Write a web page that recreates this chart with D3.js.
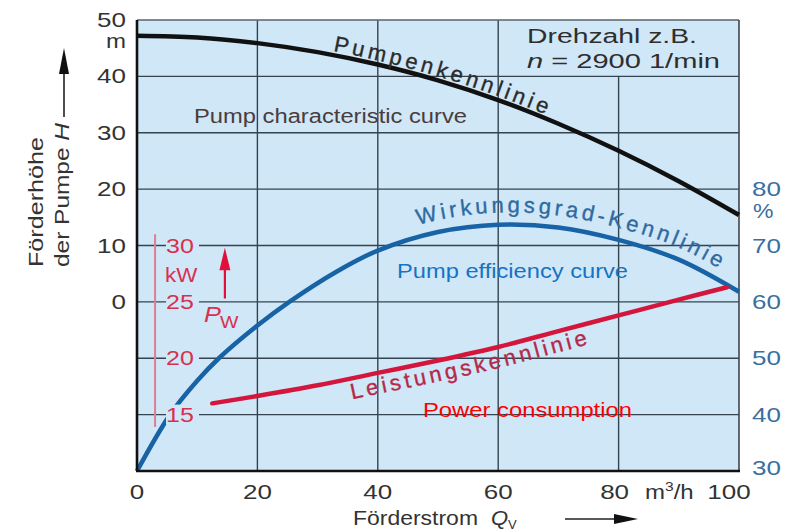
<!DOCTYPE html>
<html>
<head>
<meta charset="utf-8">
<script src="https://cdn.jsdelivr.net/npm/d3@7"></script>
<style>
body { margin: 0; background: #fff; }
svg { display: block; font-family: "Liberation Sans", Arial, sans-serif; }
</style>
</head>
<body>
<svg id="chart" width="785" height="532"></svg>
<script>
// Förderstrom Q in m3/h
var pumpQ = [0, 10, 20, 30, 40, 50, 60, 70, 80, 90, 100];
var pumpH = [47.2, 46.9, 45.9, 44.3, 42.1, 39.3, 35.8, 31.6, 26.8, 21.4, 15.4];
var effQ = [0, 5.5, 10, 13.6, 20, 25.3, 33.2, 40, 50, 60, 70, 80, 90, 100];
var effPct = [30, 40, 46, 50, 55.8, 60, 65.4, 69.1, 72.4, 73.7, 73.2, 71, 67.5, 61.8];
var powQ = [12.5, 20, 30, 40, 50, 60, 70, 80, 90, 98];
var powKW = [16, 16.65, 17.6, 18.7, 19.8, 21, 22.4, 23.8, 25.2, 26.3];

var qTicks = [0, 20, 40, 60, 80, 100];
var hTicks = [0, 10, 20, 30, 40, 50];
var effTicks = [30, 40, 50, 60, 70, 80];
var kwTicks = [15, 20, 25, 30];

var svg = d3.select("#chart");

// scales
var x = d3.scaleLinear().domain([0, 100]).range([137, 739]);
var yH = d3.scaleLinear().domain([-30, 50]).range([471, 20]);
var yE = d3.scaleLinear().domain([30, 110]).range([471, 20]);
var yP = d3.scaleLinear().domain([10, 50]).range([471, 20]);

var bg = "#cfe7f7";
var grid = "#34444f";
var sx = 1.3; // the original lettering is wide

// helper for wide text
function wtext(g, tx, ty, str, anchor, s) {
    return g.append("text")
        .attr("transform", "translate(" + tx + "," + ty + ") scale(" + (s || sx) + ",1)")
        .attr("text-anchor", anchor || "start")
        .text(str);
}

// plot background
svg.append("rect")
    .attr("x", x(0)).attr("y", yH(50))
    .attr("width", x(100) - x(0)).attr("height", yH(-30) - yH(50))
    .attr("fill", bg);

// horizontal grid
svg.append("g").selectAll("line")
    .data(d3.range(-20, 50, 10))
    .enter().append("line")
    .attr("x1", x(0)).attr("x2", x(100))
    .attr("y1", function (d) { return yH(d); })
    .attr("y2", function (d) { return yH(d); })
    .attr("stroke", grid).attr("stroke-width", 1.4);

// vertical grid, the 80 line stops below the speed box
svg.append("g").selectAll("line")
    .data([20, 40, 60, 80])
    .enter().append("line")
    .attr("x1", function (d) { return x(d); })
    .attr("x2", function (d) { return x(d); })
    .attr("y1", function (d) { return d == 80 ? yH(40) : yH(50); })
    .attr("y2", yH(-30))
    .attr("stroke", grid).attr("stroke-width", 1.4);

// frame
svg.append("line").attr("x1", x(0)).attr("x2", x(100)).attr("y1", yH(50)).attr("y2", yH(50))
    .attr("stroke", "#56646e").attr("stroke-width", 1.6);
svg.append("line").attr("x1", x(100)).attr("x2", x(100)).attr("y1", yH(50)).attr("y2", yH(-30))
    .attr("stroke", "#3b4750").attr("stroke-width", 1.6);

// red kW scale line inside the plot
var red = "#d8314f";
svg.append("line")
    .attr("x1", x(3)).attr("x2", x(3))
    .attr("y1", yP(31)).attr("y2", yP(13.9))
    .attr("stroke", "#dc8090").attr("stroke-width", 2);

// curves
function curve(qs, vs, yScale, dy) {
    var pts = qs.map(function (q, i) { return [x(q), yScale(vs[i]) + (dy || 0)]; });
    return d3.line().curve(d3.curveCatmullRom.alpha(0.5))(pts);
}

svg.append("path").attr("d", curve(pumpQ, pumpH, yH))
    .attr("fill", "none").attr("stroke", "#111").attr("stroke-width", 4.5);
svg.append("path").attr("d", curve(effQ, effPct, yE))
    .attr("fill", "none").attr("stroke", "#1763a6").attr("stroke-width", 4.5);
svg.append("path").attr("d", curve(powQ, powKW, yP))
    .attr("fill", "none").attr("stroke", "#d4163c").attr("stroke-width", 4.5)
    .attr("stroke-linecap", "round");

// left and bottom frame on top of the curves
svg.append("line").attr("x1", x(0)).attr("x2", x(0)).attr("y1", yH(50)).attr("y2", yH(-30))
    .attr("stroke", "#111").attr("stroke-width", 2.6);
svg.append("line").attr("x1", x(0) - 1).attr("x2", x(100) + 1).attr("y1", yH(-30)).attr("y2", yH(-30))
    .attr("stroke", "#111").attr("stroke-width", 2.6);

// kW tick labels, masking what lies behind them
var kw = svg.append("g").attr("fill", red).attr("font-size", 20);
kwTicks.forEach(function (v) {
    kw.append("rect")
        .attr("x", 166).attr("y", yP(v) - 10)
        .attr("width", 33).attr("height", 20)
        .attr("fill", bg);
    wtext(kw, 166, yP(v) + 7, String(v), "start", 1.25);
});
kw.append("rect").attr("x", 164).attr("y", 262).attr("width", 42).attr("height", 22).attr("fill", bg);
wtext(kw, 165, 282, "kW", "start", 1.12);

// P_W arrow
svg.append("line")
    .attr("x1", x(14.6)).attr("x2", x(14.6))
    .attr("y1", yP(25.3)).attr("y2", yP(28.3))
    .attr("stroke", "#e0103a").attr("stroke-width", 2.2);
svg.append("path")
    .attr("d", "M" + (x(14.6) - 5.5) + "," + yP(27.8) + "L" + x(14.6) + "," + yP(29.8) + "L" + (x(14.6) + 5.5) + "," + yP(27.8) + "Z")
    .attr("fill", "#e0103a");
var pw = svg.append("g").attr("fill", red);
wtext(pw, 204, 322, "P", "start", 1.15).attr("font-size", 22).attr("font-style", "italic");
wtext(pw, 220, 328, "W", "start", 1.15).attr("font-size", 17);

// labels running along the curves
var defs = svg.append("defs");
function curveLabel(id, qs, vs, yScale, dy, startX, str, color, spacing) {
    var p = defs.append("path").attr("id", id).attr("d", curve(qs, vs, yScale, dy));
    var node = p.node();
    var lo = 0, hi = node.getTotalLength();
    for (var k = 0; k < 40; k++) {
        var mid = (lo + hi) / 2;
        if (node.getPointAtLength(mid).x < startX) lo = mid; else hi = mid;
    }
    svg.append("text")
        .attr("font-size", 22)
        .attr("letter-spacing", spacing)
        .attr("fill", color)
        .attr("stroke", color).attr("stroke-width", 0.35)
        .append("textPath")
        .attr("href", "#" + id)
        .attr("startOffset", lo)
        .text(str);
}
curveLabel("pumpPath", pumpQ, pumpH, yH, -4, 333, "Pumpenkennlinie", "#2b2b2b", 3.8);
curveLabel("effPath", effQ, effPct, yE, -12, 418, "Wirkungsgrad-Kennlinie", "#2f6aa2", 3.7);
curveLabel("powPath", powQ, powKW, yP, 21, 352, "Leistungskennlinie", "#b5284a", 3.6);

// speed box
var box = svg.append("g").attr("fill", "#2e2e2e").attr("font-size", 20);
box.append("text").attr("x", 527).attr("y", 43).attr("textLength", 170)
    .attr("lengthAdjust", "spacingAndGlyphs").text("Drehzahl z.B.");
var nt = box.append("text").attr("x", 527).attr("y", 68).attr("textLength", 193)
    .attr("lengthAdjust", "spacingAndGlyphs");
nt.append("tspan").attr("font-style", "italic").text("n");
nt.append("tspan").text(" = 2900 1/min");

// English overlays
svg.append("text").attr("x", 194).attr("y", 123).attr("font-size", 20)
    .attr("fill", "#4a3c3c").attr("textLength", 273).attr("lengthAdjust", "spacingAndGlyphs")
    .text("Pump characteristic curve");
svg.append("text").attr("x", 397).attr("y", 278).attr("font-size", 20)
    .attr("fill", "#1673c4").attr("textLength", 231).attr("lengthAdjust", "spacingAndGlyphs")
    .text("Pump efficiency curve");
svg.append("text").attr("x", 423).attr("y", 417).attr("font-size", 20)
    .attr("fill", "#ff0000").attr("textLength", 209).attr("lengthAdjust", "spacingAndGlyphs")
    .text("Power consumption");

// left tick labels (H in m)
var lt = svg.append("g").attr("fill", "#333").attr("font-size", 20);
hTicks.forEach(function (v) { wtext(lt, 126, yH(v) + 7, String(v), "end"); });
wtext(lt, 126, yH(45.3) + 2, "m", "end", 1.2);

// right tick labels (efficiency in %)
var rt = svg.append("g").attr("fill", "#3a6f9e").attr("font-size", 20);
effTicks.forEach(function (v) { wtext(rt, 752, yE(v) + (v == 30 ? 4 : 7), String(v), "start"); });
wtext(rt, 753, yE(75.3) + 2, "%", "start", 1.15);

// bottom tick labels
var bt = svg.append("g").attr("fill", "#333").attr("font-size", 20);
qTicks.forEach(function (v) {
    var dx = v == 100 ? -10 : (v == 80 ? -4 : 0);
    wtext(bt, x(v) + dx, 499, String(v), "middle");
});
var mt = bt.append("text").attr("transform", "translate(645,499) scale(1.2,1)");
mt.append("tspan").text("m");
mt.append("tspan").attr("font-size", 13).attr("dy", -8).text("3");
mt.append("tspan").attr("dy", 8).text("/h");

// axis titles
var at = svg.append("g").attr("fill", "#333").attr("font-size", 20);
at.append("text").attr("transform", "translate(43,267) rotate(-90)")
    .attr("textLength", 130).attr("lengthAdjust", "spacingAndGlyphs").text("Förderhöhe");
var dp = at.append("text").attr("transform", "translate(69,267) rotate(-90)")
    .attr("textLength", 144).attr("lengthAdjust", "spacingAndGlyphs");
dp.append("tspan").text("der Pumpe ");
dp.append("tspan").attr("font-style", "italic").text("H");
at.append("line").attr("x1", 64).attr("x2", 64).attr("y1", 117).attr("y2", 70)
    .attr("stroke", "#222").attr("stroke-width", 1.6);
at.append("path").attr("d", "M59,74L64,48L69,74Z").attr("fill", "#111");

at.append("text").attr("x", 353).attr("y", 525)
    .attr("textLength", 125).attr("lengthAdjust", "spacingAndGlyphs").text("Förderstrom");
wtext(at, 491, 525, "Q", "start", 1.1).attr("font-style", "italic");
wtext(at, 508, 529, "V", "start", 1.0).attr("font-size", 13);
at.append("line").attr("x1", 565).attr("x2", 620).attr("y1", 519).attr("y2", 519)
    .attr("stroke", "#222").attr("stroke-width", 1.6);
at.append("path").attr("d", "M614,514L638,519L614,524Z").attr("fill", "#111");
</script>
</body>
</html>
